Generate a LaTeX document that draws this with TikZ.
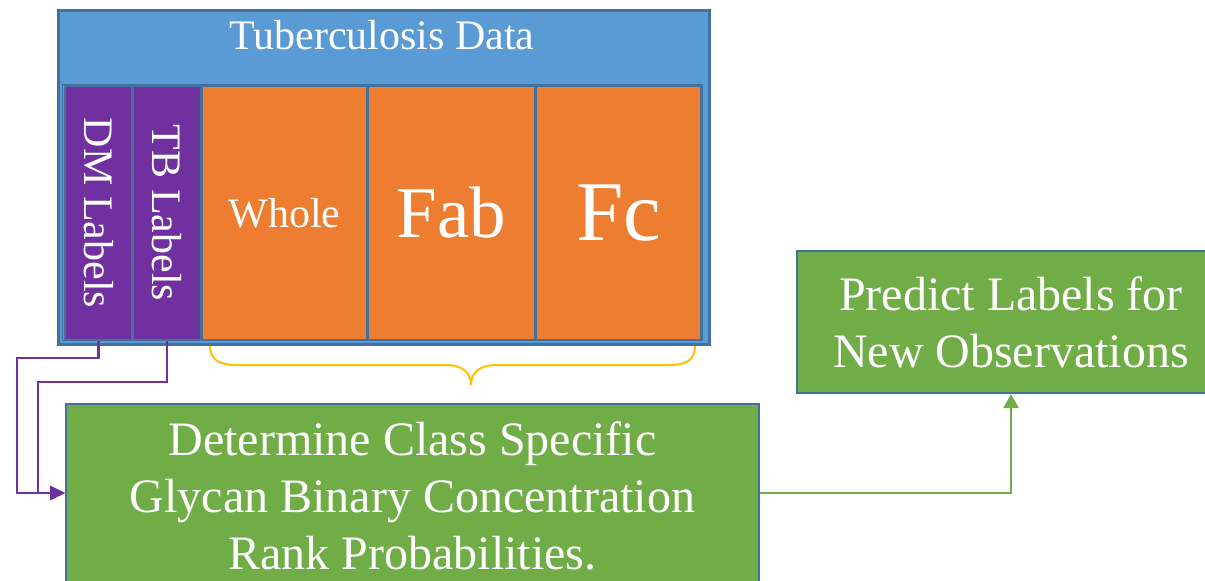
\documentclass[tikz,border=0pt]{standalone}
\usepackage{fontspec}
\setmainfont{Liberation Serif}
\usetikzlibrary{arrows.meta}

\definecolor{dataBlue}{HTML}{5B9BD5}
\definecolor{edgeBlue}{HTML}{41719C}
\definecolor{labelPurple}{HTML}{7030A0}
\definecolor{partOrange}{HTML}{ED7D31}
\definecolor{stepGreen}{HTML}{70AD47}
\definecolor{braceGold}{HTML}{FFC000}

\tikzset{
  box/.style={draw=edgeBlue, line width=2pt, inner sep=0pt, anchor=north west},
  labelcell/.style={box, fill=labelPurple, text=white},
  partcell/.style={box, fill=partOrange, text=white},
  stepbox/.style={draw=edgeBlue, line width=2pt, fill=stepGreen, text=white,
    align=center, inner sep=0pt},
  bigtext/.style={font=\fontsize{42}{50}\selectfont},
  steptext/.style={font=\fontsize{48}{57}\selectfont},
  labellink/.style={draw=labelPurple, line width=2.6pt,
    -{Triangle[length=15pt,width=14pt]}},
  steplink/.style={draw=stepGreen, line width=2.4pt,
    -{Triangle[length=14pt,width=15pt]}},
  brace/.style={draw=braceGold, line width=2pt},
}

\begin{document}
\begin{tikzpicture}[x=1pt,y=-1pt]
\useasboundingbox (0,0) rectangle (1205,581);
\clip (0,0) rectangle (1205,581);

% data set container
\node[box, fill=dataBlue, line width=2.6pt, minimum width=651pt, minimum height=334pt] (data) at (57,9) {};
\node[text=white, bigtext, anchor=base] (title) at (382,49) {Tuberculosis Data};
\node[box, line width=1.4pt, minimum width=640pt, minimum height=256pt] (row) at (62,84) {};

% label columns
\node[labelcell, minimum width=67pt, minimum height=254pt] (dm) at (64,85) {};
\node[text=white, bigtext, rotate=-90] (dmtext) at (dm.center) {DM Labels};
\node[labelcell, minimum width=68pt, minimum height=254pt] (tb) at (132,85) {};
\node[text=white, bigtext, rotate=-90] (tbtext) at (tb.center) {TB Labels};

% antibody fragment columns
\node[partcell, minimum width=165pt, minimum height=254pt, bigtext] (whole) at (201,85) {Whole};
\node[partcell, minimum width=167pt, minimum height=254pt, font=\fontsize{73}{80}\selectfont] (fab) at (367,85) {Fab};
\node[partcell, minimum width=165pt, minimum height=254pt, font=\fontsize{85}{90}\selectfont] (fc) at (535,85) {Fc};

% brace under the fragment columns
\draw[brace] (210,346) .. controls (210,360) and (220,365) .. (236,365)
  -- (445,365) .. controls (462,365) and (471,372) .. (471,385)
  .. controls (471,372) and (480,365) .. (497,365)
  -- (670,365) .. controls (686,365) and (695,360) .. (695,346);

% processing steps
\node[stepbox, steptext, minimum width=693pt, minimum height=184pt, anchor=north west] (proc) at (65,403)
  {Determine Class Specific\\Glycan Binary Concentration\\Rank Probabilities.};
\node[stepbox, steptext, minimum width=428pt, minimum height=142pt] (pred) at (1011,322)
  {Predict Labels for\\New Observations};

% connectors
\draw[labellink] (dm.south) |- (17,358) |- ([yshift=-90pt]proc.north west);
\draw[labellink] (tb.south) |- (38,382) |- ([yshift=-90pt]proc.north west);
\draw[steplink] ([yshift=-90pt]proc.north east) -| (pred.south);
\end{tikzpicture}
\end{document}
